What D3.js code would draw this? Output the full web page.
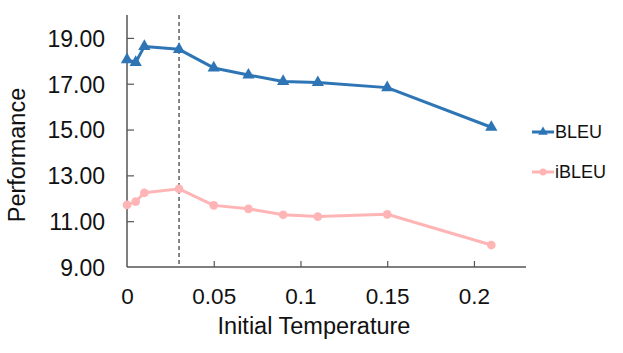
<!DOCTYPE html>
<html>
<head>
<meta charset="utf-8">
<script src="https://cdn.jsdelivr.net/npm/d3@7"></script>
<style>
  html, body { margin: 0; padding: 0; background: #fff; }
  svg text { font-family: "Liberation Sans", Arial, sans-serif; fill: #111; }
</style>
</head>
<body>
<svg id="chart" width="623" height="353"></svg>
<script>
// ─── data ─────────────────────────────────────────────
const temps   = [0, 0.005, 0.01, 0.03, 0.05, 0.07, 0.09, 0.11, 0.15, 0.21];
const bleu    = [18.05, 17.93, 18.63, 18.50, 17.69, 17.38, 17.10, 17.05, 16.83, 15.10];
const ibleu   = [11.71, 11.85, 12.24, 12.41, 11.69, 11.54, 11.28, 11.20, 11.30, 9.96];
const yTicks  = [9, 11, 13, 15, 17, 19];
const xTicks  = [0, 0.05, 0.1, 0.15, 0.2];
const markedT = 0.03;

const series = [
  { name: 'BLEU',  values: bleu,  color: '#2e75b6', marker: 'triangle' },
  { name: 'iBLEU', values: ibleu, color: '#ffb5b5', marker: 'circle' }
];

const svg = d3.select('#chart');
const M = { left: 127, right: 526, top: 15, bottom: 267 };

const x = d3.scaleLinear().domain([0, 0.23]).range([M.left, M.right]);
const y = d3.scaleLinear().domain([9, 20]).range([M.bottom, M.top]);
const axisColor = '#555';

// axes
const yAxis = svg.append('g').attr('transform', `translate(${M.left},0)`)
  .call(d3.axisLeft(y).tickValues(yTicks).tickSize(-7).tickPadding(22)
    .tickFormat(d => d3.format('.2f')(d)));
const xAxis = svg.append('g').attr('transform', `translate(0,${M.bottom})`)
  .call(d3.axisBottom(x).tickValues(xTicks).tickSize(-6).tickPadding(21)
    .tickFormat(d => d === 0 ? '0' : String(d)));

[yAxis, xAxis].forEach(a => {
  a.select('.domain').attr('stroke', axisColor).attr('stroke-width', 1.5);
  a.selectAll('.tick line').attr('stroke', axisColor).attr('stroke-width', 1.2);
  a.selectAll('.tick text').attr('fill', '#111')
    .attr('font-family', '"Liberation Sans", Arial, sans-serif');
});
yAxis.selectAll('.tick text').attr('font-size', 23).attr('dy', '0.36em');
xAxis.selectAll('.tick text').attr('font-size', 22.5);
yAxis.select('.domain').attr('d', `M0,${M.bottom}V${M.top}`);
xAxis.select('.domain').attr('d', `M${M.left},0H${M.right}`);
yAxis.selectAll('.tick').filter(d => d === 9).select('line').remove();
xAxis.selectAll('.tick').filter(d => d === 0).select('line').remove();

// dashed marker line
svg.append('line')
  .attr('x1', x(markedT)).attr('x2', x(markedT))
  .attr('y1', M.top).attr('y2', M.bottom)
  .attr('stroke', '#222').attr('stroke-width', 1.1)
  .attr('stroke-dasharray', '4,3');

// series
const line = d3.line().x((d, i) => x(temps[i])).y(d => y(d));
const tri = d3.symbol().type(d3.symbolTriangle).size(65);
const circ = d3.symbol().type(d3.symbolCircle).size(60);
const triSmall = d3.symbol().type(d3.symbolTriangle).size(40);
const circSmall = d3.symbol().type(d3.symbolCircle).size(40);

series.forEach(s => {
  const g = svg.append('g');
  g.append('path').datum(s.values).attr('d', line)
    .attr('fill', 'none').attr('stroke', s.color).attr('stroke-width', 3)
    .attr('stroke-linejoin', 'round');
  g.selectAll('path.m').data(s.values).enter().append('path')
    .attr('class', 'm')
    .attr('d', s.marker === 'triangle' ? tri : circ)
    .attr('transform', (d, i) => `translate(${x(temps[i])},${y(d)})`)
    .attr('fill', s.color);
});

// legend
const legend = svg.append('g');
series.forEach((s, i) => {
  const ly = 132 + i * 40;
  legend.append('line').attr('x1', 532).attr('x2', 554).attr('y1', ly).attr('y2', ly)
    .attr('stroke', s.color).attr('stroke-width', 3);
  legend.append('path')
    .attr('d', s.marker === 'triangle' ? triSmall : circSmall)
    .attr('transform', `translate(543,${ly})`).attr('fill', s.color);
  legend.append('text').attr('x', 555).attr('y', ly).attr('dy', '0.36em')
    .attr('font-size', 18).text(s.name);
});

// axis titles
svg.append('text').attr('x', 314).attr('y', 334)
  .attr('text-anchor', 'middle').attr('font-size', 23.5).text('Initial Temperature');
svg.append('text').attr('transform', `translate(25,155) rotate(-90)`)
  .attr('text-anchor', 'middle').attr('font-size', 23.5).text('Performance');
</script>
</body>
</html>
